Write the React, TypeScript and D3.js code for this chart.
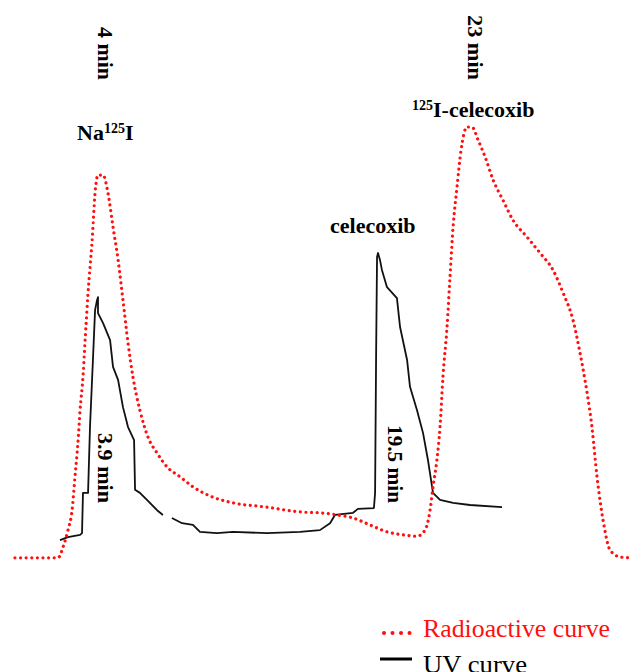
import React from "react";
import * as d3 from "d3";

// Radioactive (gamma) trace: time (min), relative intensity
const radioTime = [-0.26, 1.95, 2.21, 2.46, 2.67, 2.82, 2.97, 3.08, 3.23, 3.33, 3.49, 3.69, 3.85, 4.0, 4.26, 4.51, 4.77, 5.03, 5.28, 5.54, 5.79, 6.15, 6.56, 7.03, 7.54, 8.21, 8.87, 9.9, 10.92, 12.67, 14.36, 15.38, 16.26, 17.08, 17.95, 18.82, 19.64, 20.36, 20.77, 21.03, 21.18, 21.38, 21.54, 21.69, 21.9, 22.05, 22.21, 22.41, 22.62, 22.92, 23.18, 23.49, 23.85, 24.26, 24.77, 25.28, 26.0, 26.67, 27.33, 27.85, 28.36, 28.72, 29.08, 29.33, 29.59, 29.9, 30.26, 30.77, 31.28];
const radioValue = [0.5, 0.5, 3.0, 6.9, 11.5, 19.2, 27.0, 34.6, 42.3, 50.1, 61.7, 73.2, 84.8, 88.9, 88.9, 84.8, 76.9, 69.3, 60.0, 50.1, 42.3, 34.6, 28.4, 24.7, 21.5, 19.2, 16.9, 14.5, 13.2, 12.2, 11.1, 10.9, 10.4, 9.7, 8.1, 6.5, 5.8, 5.5, 6.9, 11.5, 16.9, 23.1, 30.7, 42.3, 53.8, 65.4, 76.9, 86.1, 94.7, 100, 100, 97.0, 93.1, 87.8, 83.1, 78.5, 74.6, 70.9, 67.0, 61.7, 55.4, 47.8, 38.6, 30.7, 19.2, 9.2, 2.3, 0.7, 0.5];

// UV trace: time (min), relative absorbance (null = gap in trace)
const uvTime = [2.05, 2.46, 3.08, 3.18, 3.23, 3.49, 3.59, 3.74, 3.85, 3.95, 4.0, 4.0, 4.26, 4.62, 4.77, 5.03, 5.28, 5.54, 5.85, 5.9, 6.15, 6.51, 7.03, 7.33, 7.5, 7.79, 8.31, 8.87, 9.23, 10.1, 10.92, 12.67, 14.36, 15.38, 15.9, 16.15, 17.08, 17.33, 18.15, 18.21, 18.26, 18.31, 18.36, 18.46, 18.56, 18.82, 19.33, 19.49, 19.85, 20.0, 20.36, 20.67, 20.92, 21.18, 21.54, 22.21, 23.08, 24.72];
const uvValue: (number | null)[] = [4.6, 5.3, 5.8, 6.2, 15.5, 15.5, 30.7, 46.2, 57.7, 60.0, 60.7, 57.0, 54.7, 50.8, 44.6, 41.6, 35.3, 30.7, 27.7, 16.2, 15.5, 13.9, 11.5, 10.4, null, 9.7, 8.5, 8.1, 6.5, 6.2, 6.5, 6.2, 6.5, 6.9, 8.5, 10.4, 10.9, 11.8, 12.0, 15.5, 46.2, 70.0, 70.9, 69.3, 67.0, 63.0, 60.5, 53.8, 46.2, 40.0, 34.6, 29.3, 23.1, 15.5, 13.9, 13.2, 12.7, 12.2];

const legendLabels = ["Radioactive curve", "UV curve"];

const W = 632;
const H = 672;
const RED = "#ff1010";
const FONT = "'Liberation Serif', 'Times New Roman', serif";

export default function App() {
  const x = d3.scaleLinear().domain([0, 30]).range([20, 605]);
  const y = d3.scaleLinear().domain([0, 100]).range([560, 127]);

  const radio = radioTime.map((t, i) => ({ t, v: radioValue[i] as number | null }));
  const uv = uvTime.map((t, i) => ({ t, v: uvValue[i] }));

  const line = d3
    .line<{ t: number; v: number | null }>()
    .defined((d) => d.v !== null)
    .x((d) => x(d.t))
    .y((d) => y(d.v as number));

  const radioLine = d3
    .line<{ t: number; v: number | null }>()
    .x((d) => x(d.t))
    .y((d) => y(d.v as number))
    .curve(d3.curveMonotoneX);

  const bold = { fontFamily: FONT, fontWeight: 700, fontSize: 22, fill: "#000" } as const;

  return (
    <svg
      width={W}
      height={H}
      style={{ position: "absolute", left: 0, top: 0, display: "block", background: "#fff" }}
    >
      <rect x={0} y={0} width={W} height={H} fill="#fff" />
      {/* UV curve */}
      <path d={line(uv) || ""} fill="none" stroke="#111" strokeWidth={1.8} strokeLinejoin="round" />
      {/* Radioactive curve */}
      <path
        d={radioLine(radio) || ""}
        fill="none"
        stroke={RED}
        strokeWidth={3.2}
        strokeDasharray="0.01 5.6"
        strokeLinecap="round"
      />

      {/* Peak labels */}
      <text {...bold} transform="translate(98,27) rotate(90)" textLength={53} lengthAdjust="spacingAndGlyphs">4 min</text>
      <text {...bold} transform="translate(468,15) rotate(90)" textLength={65} lengthAdjust="spacingAndGlyphs">23 min</text>
      <text {...bold} transform="translate(98,433) rotate(90)" textLength={70} lengthAdjust="spacingAndGlyphs">3.9 min</text>
      <text {...bold} transform="translate(388,425) rotate(90)" textLength={78} lengthAdjust="spacingAndGlyphs">19.5 min</text>

      <text {...bold} x={77} y={140}>
        Na<tspan fontSize={14} dy={-7}>125</tspan>
        <tspan dy={7}>I</tspan>
      </text>
      <text {...bold} x={412} y={117}>
        <tspan fontSize={14} dy={-7}>125</tspan>
        <tspan dy={7}>I-celecoxib</tspan>
      </text>
      <text {...bold} x={330} y={233}>celecoxib</text>

      {/* Legend */}
      <line x1={384} x2={412} y1={633} y2={633} stroke={RED} strokeWidth={4} strokeDasharray="0.01 8.5" strokeLinecap="round" />
      <text x={423} y={637} fontFamily={FONT} fontSize={26} fill={RED} textLength={187} lengthAdjust="spacingAndGlyphs">
        {legendLabels[0]}
      </text>
      <line x1={380} x2={412} y1={659} y2={659} stroke="#000" strokeWidth={3} />
      <text x={423} y={673} fontFamily={FONT} fontSize={26} fill="#000" textLength={104} lengthAdjust="spacingAndGlyphs">
        {legendLabels[1]}
      </text>
    </svg>
  );
}
